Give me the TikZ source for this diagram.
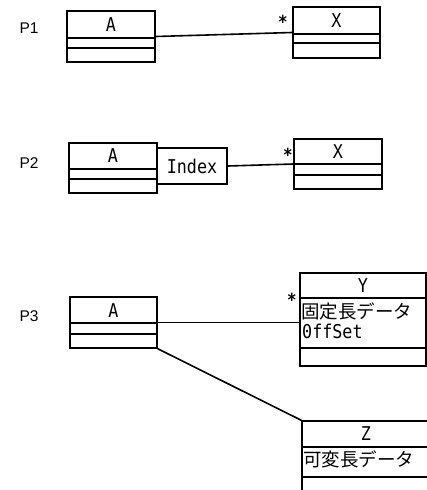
\documentclass[tikz,border=0pt]{standalone}
\usepackage{fontspec}
\setmainfont{Liberation Sans}
\newfontfamily\monofont[FakeStretch=0.88]{DejaVu Sans Mono}
\newfontfamily\jpfont{Noto Sans CJK JP}
\begin{document}
\begin{tikzpicture}[x=1pt,y=-1pt,
  box/.style={draw,line width=1.5pt,inner sep=0pt},
  conn/.style={line width=1.6pt},
  sep/.style={line width=1.4pt},
  lbl/.style={font=\fontsize{15.5}{15.5}\selectfont,inner sep=0pt},
  cname/.style={font=\monofont\fontsize{19}{19}\selectfont,inner sep=0pt},
  attr/.style={font=\jpfont\fontsize{18.5}{18.5}\selectfont,inner sep=0pt,anchor=west},
  mult/.style={font=\monofont\bfseries\fontsize{18}{18}\selectfont,inner sep=0pt}]
\useasboundingbox (0,0) rectangle (426,490);
\fill[white] (0,0) rectangle (426,490);
% ---------- P1
\node[lbl] (p1) at (29,28) {P1};
\node[box,minimum width=88pt,minimum height=51pt] (a1) at (111,36.5) {};
\draw[sep] (67,38) -- (155,38) (67,48) -- (155,48);
\node[cname] (a1n) at (111,25) {A};
\node[box,minimum width=87pt,minimum height=51pt] (x1) at (336.5,32.5) {};
\draw[sep] (293,34) -- (380,34) (293,43) -- (380,43);
\node[cname] (x1n) at (336.5,21) {X};
\draw[conn] (a1.east) -- (x1.west);
\node[mult] (m1) at (283,22) {*};
% ---------- P2
\node[lbl] (p2) at (29,163) {P2};
\node[box,minimum width=88pt,minimum height=50pt] (a2) at (113,168) {};
\draw[sep] (69,169) -- (157,169) (69,179) -- (157,179);
\node[cname] (a2n) at (113,156) {A};
\node[box,minimum width=70pt,minimum height=36pt] (idx) at (192,166) {};
\node[cname] (idxn) at (192,166) {Index};
\node[box,minimum width=88pt,minimum height=50pt] (x2) at (338,164) {};
\draw[sep] (294,164) -- (382,164) (294,175) -- (382,175);
\node[cname] (x2n) at (338,152) {X};
\draw[conn] (idx.east) -- (x2.west);
\node[mult] (m2) at (288,155) {*};
% ---------- P3
\node[lbl] (p3) at (29,316) {P3};
\node[box,minimum width=87pt,minimum height=51pt] (a3) at (113.5,322.5) {};
\draw[sep] (70,323) -- (157,323) (70,334) -- (157,334);
\node[cname] (a3n) at (113.5,311) {A};
\node[box,minimum width=126pt,minimum height=93pt] (y3) at (363,319.5) {};
\draw[sep] (300,298) -- (426,298) (300,348) -- (426,348);
\node[cname] (y3n) at (363,286) {Y};
\node[attr] (y3a) at (301,311) {固定長データ};
\node[attr,font=\monofont\fontsize{19}{19}\selectfont] (y3b) at (302,331) {0ffSet};
\node[mult] (m3) at (292,300) {*};
\draw[conn] (a3.east) -- (a3.east -| y3.west);
\node[box,minimum width=126pt,minimum height=89pt] (z3) at (365,465.5) {};
\draw[sep] (302,447) -- (428,447) (302,477) -- (428,477);
\node[cname] (z3n) at (366,434) {Z};
\node[attr] (z3a) at (303,459) {可変長データ};
\draw[conn] (a3.south east) -- (z3.north west);
\end{tikzpicture}
\end{document}
